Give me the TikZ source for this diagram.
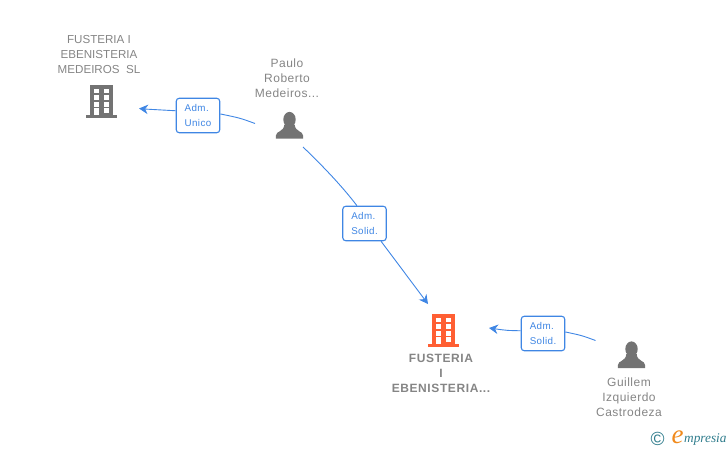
\documentclass[tikz,border=0pt]{standalone}
\usepackage{fontspec}
\setmainfont{Liberation Sans}
\newfontfamily\logofont{Liberation Serif}
\newfontfamily\spacedfont[LetterSpace=4]{Liberation Sans}
\newfontfamily\spacedbold[LetterSpace=5,BoldFont={Liberation Sans Bold}]{Liberation Sans}
\usetikzlibrary{arrows.meta}

\definecolor{iconGrey}{HTML}{737373}
\definecolor{textGrey}{HTML}{858585}
\definecolor{mainOrange}{HTML}{FF5F33}
\definecolor{linkBlue}{HTML}{3F86E4}
\definecolor{logoTeal}{HTML}{2F7C8C}
\definecolor{logoOrange}{HTML}{F08A1D}

\tikzset{
    x=1pt, y=-1pt,
    nameText/.style={text=textGrey, font=\fontsize{11.6}{15}\selectfont, align=center, inner sep=0pt},
    personText/.style={nameText, font=\spacedfont\fontsize{12}{15}\selectfont},
    boldText/.style={nameText, font=\spacedbold\fontsize{12}{15.3}\selectfont\bfseries},
    linkBox/.style={draw=linkBlue, line width=1.1pt, rounded corners=3pt, fill=white,
        minimum width=43.5pt, minimum height=34.5pt, inner sep=0pt, text=linkBlue,
        font=\spacedfont\fontsize{9.8}{15}\selectfont, align=left},
    linkLine/.style={draw=linkBlue, line width=0.9pt},
    linkArrow/.style={linkLine, -{Stealth[length=9pt,width=9.5pt]}},
    pics/building/.style={code={
        \fill[#1] (-15.5,0) rectangle (15.5,-2.7);
        \fill[#1] (-11.2,0) rectangle (11.2,-33.5);
        \foreach \wy in {-29.4,-22.7,-15.9} {
            \fill[white] (-7.1,\wy) rectangle (-2.3,\wy+4.4);
            \fill[white] (2,\wy) rectangle (7,\wy+4.4);
        }
        \fill[white] (-7.1,-9.9) rectangle (-2.3,-2.7);
        \fill[white] (2,-9.9) rectangle (7,-5);
    }},
    pics/person/.style={code={
        \fill[iconGrey] (0,-19) ellipse (6.2 and 7.6);
        \fill[iconGrey] (-13.6,0) -- (-13.6,-3) .. controls (-13.6,-7.5) and (-5.5,-6.5) .. (-5.2,-14)
            -- (5.2,-14) .. controls (5.5,-6.5) and (13.6,-7.5) .. (13.6,-3) -- (13.6,0) -- cycle;
    }}
}

\begin{document}
\begin{tikzpicture}
    \useasboundingbox (0,0) rectangle (728,450);

    % icons
    \pic at (101.5,118) {building=iconGrey};
    \pic at (443.5,347) {building=mainOrange};
    \pic at (289.5,138.5) {person};
    \pic at (631.5,368) {person};

    % names
    \node[nameText] (medeirosName) at (99,55) {FUSTERIA I\\EBENISTERIA\\MEDEIROS\ \ SL};
    \node[personText] (pauloName) at (287,78) {Paulo\\Roberto\\Medeiros...};
    \node[boldText] (fusteriaName) at (441,373.5) {FUSTERIA\\I\\EBENISTERIA...};
    \node[personText] (guillemName) at (629,397) {Guillem\\Izquierdo\\Castrodeza};

    % connector ends
    \coordinate (pauloLeft) at (255,123.5);
    \coordinate (pauloDown) at (303,147);
    \coordinate (guillemLeft) at (595.5,340.5);
    \coordinate (medeirosIn) at (139,108.5);
    \coordinate (fusteriaTop) at (428,304);
    \coordinate (fusteriaRight) at (489,328);

    % link boxes
    \node[linkBox] (admUnico) at (198,115.5) {Adm.\\Unico};
    \node[linkBox] (admSolidA) at (364.5,223.5) {Adm.\\Solid.};
    \node[linkBox] (admSolidB) at (543,333.5) {Adm.\\Solid.};

    % links
    \draw[linkLine] (pauloLeft) .. controls (240,118) .. (admUnico.4);
    \draw[linkArrow] (admUnico.168) .. controls (160,110.5) .. (medeirosIn);
    \draw[linkLine] (pauloDown) .. controls (328,171) and (345,190) .. (admSolidA.113);
    \draw[linkArrow] (admSolidA.-47) -- (fusteriaTop);
    \draw[linkLine] (guillemLeft) .. controls (582,335.5) .. (admSolidB.4);
    \draw[linkArrow] (admSolidB.173) .. controls (507,330.5) .. (fusteriaRight);

    % logo
    \node[inner sep=0pt, text=logoTeal, font=\fontsize{19}{19}\selectfont] (logoMark) at (657.5,439) {©};
    \node[inner sep=0pt, text=logoOrange, font=\logofont\itshape\fontsize{27}{27}\selectfont] (logoE) at (677.5,437) {e};
    \node[inner sep=0pt, anchor=base west, text=logoTeal, font=\logofont\itshape\fontsize{13.3}{14}\selectfont] (logoRest) at (684,442.5) {mpresia};
\end{tikzpicture}
\end{document}
